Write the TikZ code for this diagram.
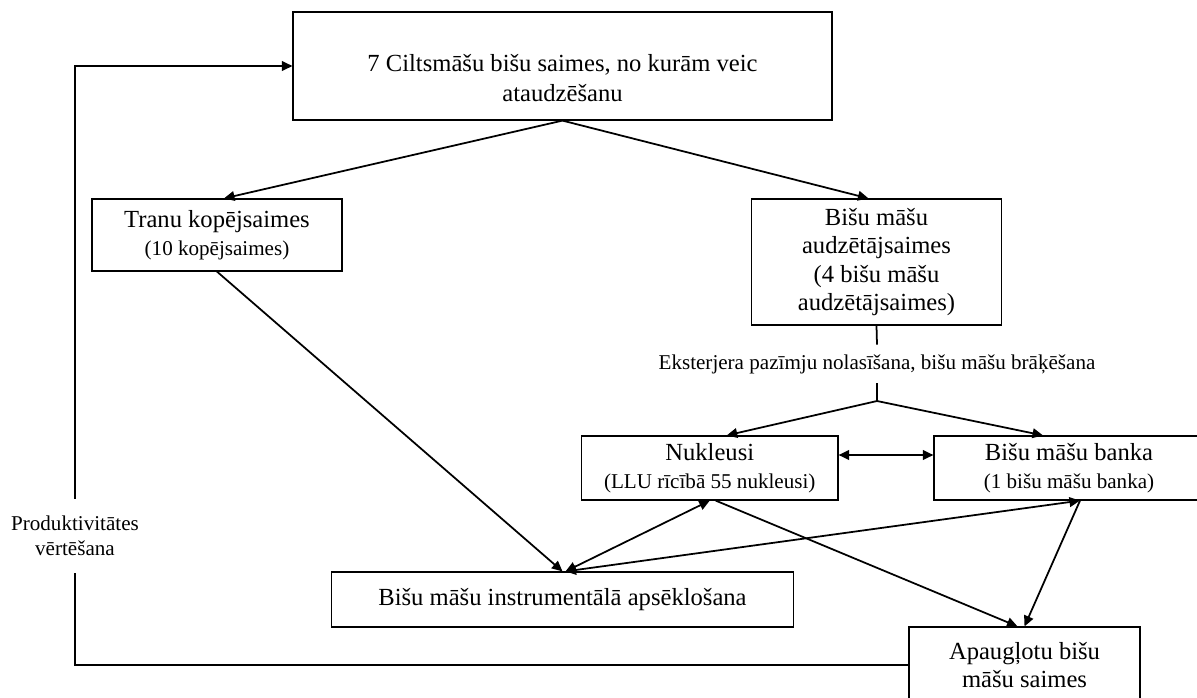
\documentclass[tikz,border=0pt]{standalone}
\usepackage{fontspec}
\setmainfont{Liberation Serif}
\usetikzlibrary{arrows.meta, calc}

\newcommand{\smallLine}[1]{{\fontsize{12}{14}\selectfont #1}}

\tikzset{
  blockBox/.style = {draw, line width = 0.7pt, align = center, inner sep = 0pt,
    font = \fontsize{14}{16}\selectfont},
  noteText/.style = {align = center, inner xsep = 2pt, inner ysep = 0pt,
    font = \fontsize{12}{14}\selectfont},
  flowLine/.style = {line width = 1pt},
  flowArrow/.style = {flowLine, -{Triangle[length = 6pt, width = 5.5pt]}},
  flowBoth/.style = {flowLine,
    {Triangle[length = 6pt, width = 5.5pt]}-{Triangle[length = 6pt, width = 5.5pt]}},
}

\begin{document}
\begin{tikzpicture}[x = 0.02cm, y = -0.02cm]
  \useasboundingbox (0, 0) rectangle (1197, 697);

  % ------------------------
  % boxes
  % ------------------------

  \node[blockBox, minimum width = 10.78cm, minimum height = 2.16cm] (top) at (562.5, 66) {};
  \node[blockBox, draw = none] (topText) at (562.5, 78) {7 Ciltsmāšu bišu saimes, no kurām veic\\[1pt] ataudzēšanu};

  \node[blockBox, minimum width = 5cm, minimum height = 1.44cm] (tranu) at (217, 235) {Tranu kopējsaimes\\ \smallLine{(10 kopējsaimes)}};
  \node[blockBox, minimum width = 5cm, minimum height = 2.52cm] (audz) at (876.5, 262) {Bišu māšu\\ audzētājsaimes\\ (4 bišu māšu\\ audzētājsaimes)};

  \node[blockBox, minimum width = 5.13cm, minimum height = 1.28cm] (nukl) at (709.75, 468) {Nukleusi\\ \smallLine{(LLU rīcībā 55 nukleusi)}};
  % the bank box runs off the right edge of the page
  \node[blockBox, minimum width = 5.4cm, minimum height = 1.28cm] (bank) at (1069, 468) {Bišu māšu banka\\ \smallLine{(1 bišu māšu banka)}};

  \node[blockBox, minimum width = 9.24cm, minimum height = 1.1cm] (instr) at (562.5, 599.5) {Bišu māšu instrumentālā apsēklošana};
  \node[blockBox, minimum width = 4.62cm, minimum height = 1.52cm] (apaug) at (1024.5, 665) {Apaugļotu bišu\\ māšu saimes};

  % ------------------------
  % labels on the lines
  % ------------------------

  \node[noteText, minimum height = 0.76cm] (brak) at (877, 364) {Eksterjera pazīmju nolasīšana, bišu māšu brāķēšana};
  \node[noteText, minimum height = 1.48cm] (prod) at (75, 536) {Produktivitātes\\ vērtēšana};

  \coordinate (fork) at (877, 401);
  \coordinate (bankFoot) at ($(bank.south) + (11, 0)$);

  % ------------------------
  % connectors
  % ------------------------

  \draw[flowArrow] (top.south) to ($(tranu.north) + (7, 0)$);
  \draw[flowArrow] (top.south) to ($(audz.north) + (-8, 0)$);

  \draw[flowLine] (audz.south) to (brak.north);
  \draw[flowLine] (brak.south) to (fork);
  \draw[flowArrow] (fork) to ($(nukl.north) + (17, 0)$);
  \draw[flowArrow] (fork) to ($(bank.north) + (-26, 0)$);
  \draw[flowBoth] ($(nukl.east) + (0, -13)$) to ($(bank.west) + (0, -13)$);

  \draw[flowArrow] (tranu.south) to (instr.north);
  \draw[flowBoth] (nukl.south) to ($(instr.north) + (3, 0)$);
  \draw[flowBoth] (bankFoot) to ($(instr.north) + (3, 0)$);

  \draw[flowArrow] ($(nukl.south) + (6, 0)$) to ($(apaug.north) + (-7, 0)$);
  \draw[flowArrow] (bankFoot) to (apaug.north);

  % feedback to the top box
  \draw[flowLine] (apaug.west) -| (prod.south);
  \draw[flowArrow] (prod.north) |- (top.west);
\end{tikzpicture}
\end{document}
